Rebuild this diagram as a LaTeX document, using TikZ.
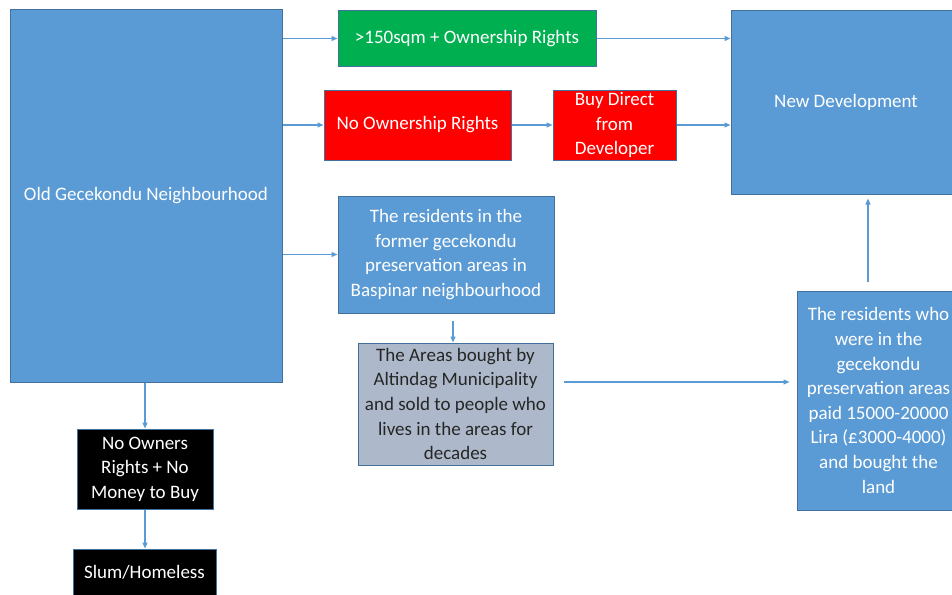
\documentclass[tikz,border=0pt]{standalone}
\usepackage{fontspec}
\setmainfont{Carlito}
\usetikzlibrary{arrows.meta}
\definecolor{boxblue}{HTML}{5B9BD5}
\definecolor{edgeblue}{HTML}{41719C}
\definecolor{boxgreen}{HTML}{00B050}
\definecolor{boxgray}{HTML}{ADB9CA}
\tikzset{
    box/.style={draw=edgeblue,line width=1pt,fill=boxblue,text=white,inner sep=0pt,
        align=center,font=\fontsize{19}{24.6}\selectfont},
    link/.style={draw=boxblue,line width=1.3pt,-{Triangle[length=6pt,width=5pt]}}
}
\begin{document}
\begin{tikzpicture}[x=1pt,y=-1pt]
\useasboundingbox (0,0) rectangle (952,594);
\clip (0,0) rectangle (952,594);
\node[box,minimum width=272pt,minimum height=372pt] (old) at (146,196) {Old Gecekondu Neighbourhood};
\node[box,fill=boxgreen,minimum width=258pt,minimum height=55pt] (big) at (467,38.5) {>150sqm + Ownership Rights};
\node[box,fill=red,minimum width=187pt,minimum height=70pt] (noright) at (417.5,125) {No Ownership Rights};
\node[box,fill=red,minimum width=123pt,minimum height=70pt] (direct) at (614.5,125) {Buy Direct\\from\\Developer};
\node[box,minimum width=230pt,minimum height=183pt] (newdev) at (846,102.5) {New Development};
\node[box,minimum width=216pt,minimum height=117pt] (former) at (446,254.5)
    {The residents in the\\former gecekondu\\preservation areas in\\Baspinar neighbourhood};
\node[box,fill=boxgray,text=black!85,minimum width=195pt,minimum height=122pt] (bought) at (455.5,404)
    {The Areas bought by\\Altindag Municipality\\and sold to people who\\lives in the areas for\\decades};
\node[box,minimum width=163pt,minimum height=219pt] (paid) at (878.5,400.5)
    {The residents who\\were in the\\gecekondu\\preservation areas\\paid 15000-20000\\Lira (£3000-4000)\\and bought the\\land};
\node[box,fill=black,minimum width=136pt,minimum height=80pt] (nomoney) at (145,469)
    {No Owners\\Rights + No\\Money to Buy};
\node[box,fill=black,minimum width=143pt,minimum height=46pt] (slum) at (144.5,572) {Slum/Homeless};
% connectors
\draw[link] (old.east |- big) -- (big);
\draw[link] (big) -- (newdev.west |- big);
\draw[link] (old.east |- noright) -- (noright);
\draw[link] (noright) -- (direct);
\draw[link] (direct) -- (newdev.west |- direct);
\draw[link] (old.east |- former) -- (former);
\draw[link,shorten <=7pt] (former.south -| 453,0) -- (bought.north -| 453,0);
\draw[link,shorten <=10pt,shorten >=7pt] (bought.east |- 0,382) -- (paid.west |- 0,382);
\draw[link,shorten <=9pt,shorten >=4pt] (paid.north -| 868,0) -- (newdev.south -| 868,0);
\draw[link] (old.south -| nomoney) -- (nomoney);
\draw[link] (nomoney) -- (nomoney |- slum.north);
\end{tikzpicture}
\end{document}
